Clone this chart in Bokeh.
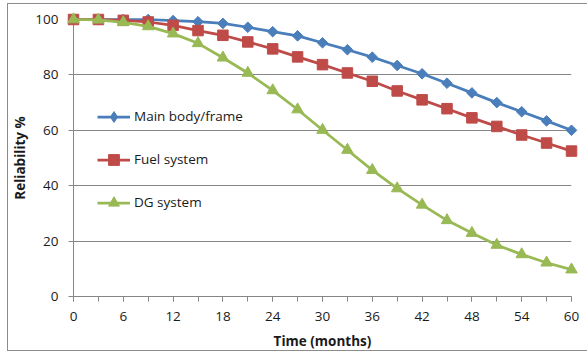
import math
from bokeh.plotting import figure
from bokeh.models import (Range1d, SingleIntervalTicker, Legend, LegendItem,
                          ColumnDataSource)
from bokeh.embed import file_html
from bokeh.resources import INLINE

# ---- data ----
months = [0, 3, 6, 9, 12, 15, 18, 21, 24, 27, 30, 33, 36, 39, 42, 45, 48, 51, 54, 57, 60]
main_body = [100, 100, 100, 100, 99.6, 99.2, 98.6, 97.2, 95.6, 94.1, 91.6, 89.1, 86.4,
             83.4, 80.4, 77.0, 73.5, 70.0, 66.7, 63.4, 60.0]
fuel_system = [100, 100, 99.7, 99.1, 97.9, 96.0, 94.3, 91.9, 89.4, 86.5, 83.7, 80.7, 77.7,
               74.2, 71.0, 67.8, 64.5, 61.4, 58.3, 55.4, 52.5]
dg_system = [100, 99.9, 99.0, 97.5, 94.9, 91.4, 86.2, 80.7, 74.4, 67.5, 60.1, 52.9, 45.6,
             39.0, 33.1, 27.5, 22.9, 18.6, 15.2, 12.2, 9.7]
series_names = ["Main body/frame", "Fuel system", "DG system"]
x_label = "Time (months)"
y_label = "Reliability %"

FONT = "Open Sans"
GRID = "#868686"
BLUE, RED, GREEN = "#4A7EBB", "#BE4B48", "#98B954"

# the chart area sits inside a bordered box that starts at (7, 3) in the window
p = figure(width=580, height=348, output_backend="svg", toolbar_location=None,
           x_range=Range1d(0, 60), y_range=Range1d(0, 100),
           min_border_left=65, min_border_right=17, min_border_top=15, min_border_bottom=55)
p.margin = (3, 0, 0, 7)
p.styles = {"border-left": "1px solid #8c8c8c", "border-top": "1px solid #8c8c8c",
            "border-bottom": "1px solid #8c8c8c"}
p.outline_line_color = None
p.background_fill_color = "white"
p.border_fill_color = "white"

# axes
p.xaxis.ticker = SingleIntervalTicker(interval=6, num_minor_ticks=2)
p.yaxis.ticker = SingleIntervalTicker(interval=20, num_minor_ticks=0)
for ax in (p.xaxis, p.yaxis):
    ax.axis_line_color = GRID
    ax.major_tick_line_color = GRID
    ax.minor_tick_line_color = GRID
    ax.major_tick_in = 0
    ax.major_tick_out = 5
    ax.minor_tick_in = 0
    ax.minor_tick_out = 5
    ax.major_label_text_font = FONT
    ax.major_label_text_font_size = "13.5px"
    ax.major_label_text_color = "#1a1a1a"
    ax.axis_label_text_font = FONT
    ax.axis_label_text_font_size = "13.5px"
    ax.axis_label_text_font_style = "bold"
    ax.axis_label_text_color = "#1a1a1a"
p.yaxis.minor_tick_line_color = None
p.xaxis.major_label_standoff = 10
p.yaxis.major_label_standoff = 10
p.xaxis.axis_label = x_label
p.yaxis.axis_label = y_label
p.xaxis.axis_label_standoff = 8
p.yaxis.axis_label_standoff = 3

p.xgrid.grid_line_color = None
p.ygrid.grid_line_color = GRID
p.ygrid.grid_line_width = 1

src = ColumnDataSource(dict(x=months, a=main_body, b=fuel_system, c=dg_system))

l1 = p.line("x", "a", source=src, line_color=BLUE, line_width=2.75, level="overlay")
m1 = p.scatter("x", "a", source=src, marker="square", angle=math.pi / 4, size=7.5,
               fill_color=BLUE, line_color=BLUE, level="overlay")
# size-0 diamond on the same data: only shows up in the legend
d1 = p.scatter("x", "a", source=src, marker="diamond", size=0,
               fill_color=BLUE, line_color=BLUE, level="overlay")
l2 = p.line("x", "b", source=src, line_color=RED, line_width=2.75, level="overlay")
m2 = p.scatter("x", "b", source=src, marker="square", size=10.5,
               fill_color=RED, line_color=RED, level="overlay")
l3 = p.line("x", "c", source=src, line_color=GREEN, line_width=2.75, level="overlay")
m3 = p.scatter("x", "c", source=src, marker="triangle", size=11.5,
               fill_color=GREEN, line_color=GREEN, level="overlay")

legend = Legend(items=[
    LegendItem(label=series_names[0], renderers=[l1, d1]),
    LegendItem(label=series_names[1], renderers=[l2, m2]),
    LegendItem(label=series_names[2], renderers=[l3, m3]),
], location=(24, 80.5))
legend.padding = 0
legend.margin = 0
legend.spacing = 16
legend.glyph_width = 33
legend.glyph_height = 27
legend.label_height = 27
legend.label_standoff = 4
legend.label_text_font = FONT
legend.label_text_font_size = "13.5px"
legend.label_text_color = "#1a1a1a"
legend.background_fill_alpha = 0
legend.border_line_color = None
p.add_layout(legend, "center")

open("out.html", "w").write(file_html(p, INLINE))
